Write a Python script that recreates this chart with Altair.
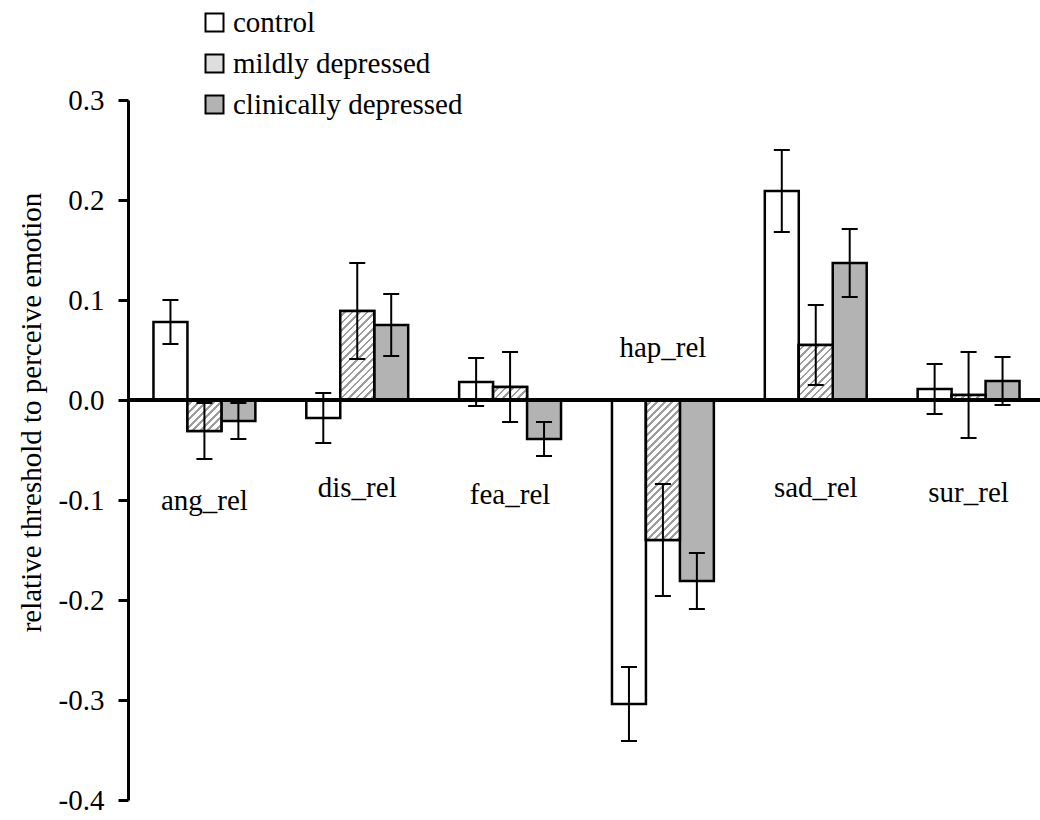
import altair as alt
import pandas as pd

# ---------------- data ----------------
categories = ["ang_rel", "dis_rel", "fea_rel", "hap_rel", "sad_rel", "sur_rel"]
groups = ["control", "mildly depressed", "clinically depressed"]

control = [0.078, -0.018, 0.018, -0.304, 0.209, 0.011]
control_err = [0.022, 0.025, 0.024, 0.037, 0.041, 0.025]
mild = [-0.031, 0.089, 0.013, -0.140, 0.055, 0.005]
mild_err = [0.028, 0.048, 0.035, 0.056, 0.040, 0.043]
clinical = [-0.021, 0.075, -0.039, -0.181, 0.137, 0.019]
clinical_err = [0.018, 0.031, 0.017, 0.028, 0.034, 0.024]

# vertical anchor (baseline) of each category label, in data units
label_anchor = [-0.110, -0.097, -0.104, 0.043, -0.097, -0.102]

y_ticks = [-0.4, -0.3, -0.2, -0.1, 0.0, 0.1, 0.2, 0.3]
y_title = "relative threshold to perceive emotion"

# ---------------- tables ----------------
series = {groups[0]: (control, control_err),
          groups[1]: (mild, mild_err),
          groups[2]: (clinical, clinical_err)}
rows = []
for g in groups:
    vals, errs = series[g]
    for c, v, e in zip(categories, vals, errs):
        rows.append({"category": c, "group": g, "value": v,
                     "lo": round(v - e, 4), "hi": round(v + e, 4)})
df = pd.DataFrame(rows)
labels_df = pd.DataFrame({"category": categories, "label_y": label_anchor})

# ---------------- layout / style ----------------
W, H = 912, 700
X_RANGE = 917
OFFSET_PAD = 0.75
STEP = X_RANGE / len(categories)
BAR_W = STEP / (len(groups) + 2 * OFFSET_PAD)
PX_PER_UNIT = H / 0.7
SERIF = "Liberation Serif"
FS = 29
HATCH = "#9c9c9c"
PERIOD = 7.5
LINE = 2.6

xenc = alt.X("category:N", axis=None,
             scale=alt.Scale(domain=categories, range=[0, X_RANGE],
                             paddingInner=0, paddingOuter=0))
xoff = alt.XOffset("group:N",
                   scale=alt.Scale(domain=groups, paddingInner=0,
                                   paddingOuter=OFFSET_PAD))
yscale = alt.Scale(domain=[-0.4, 0.3], nice=False, zero=False)

yaxis = alt.Axis(
    values=y_ticks,
    labelExpr="replace(format(datum.value, '.1f'), '\u2212', '-')",
    labelFont=SERIF, labelFontSize=FS, labelColor="black", labelPadding=14,
    labelBaseline="middle",
    tickSize=10, tickWidth=3, tickColor="black",
    domainColor="black", domainWidth=3, grid=False,
    title=y_title, titleFont=SERIF, titleFontSize=FS, titleFontWeight="normal",
    titleColor="black", titleAngle=270, titleX=-97, titleY=312,
    titleAlign="center", titleBaseline="middle",
)


def yenc(field):
    return alt.Y(field, scale=yscale, axis=yaxis, stack=None)


def hatch_gradient(value):
    h = max(abs(value) * PX_PER_UNIT, 1.0)
    w = BAR_W
    span = w + h
    stops = [{"offset": 0, "color": "white"}]
    pos = PERIOD * 0.6
    while pos < span:
        a = pos / span
        b = min((pos + LINE) / span, 1.0)
        stops += [{"offset": a, "color": "white"}, {"offset": a, "color": HATCH},
                  {"offset": b, "color": HATCH}, {"offset": b, "color": "white"}]
        pos += PERIOD
    stops.append({"offset": 1, "color": "white"})
    denom = w * w + h * h
    return {"gradient": "linear", "x1": 0, "y1": 0,
            "x2": span * w / denom, "y2": span * h / denom, "stops": stops}


bars = alt.Chart(df).mark_bar(stroke="black", strokeWidth=2.5, opacity=1).encode(
    x=xenc, xOffset=xoff,
    y=yenc("value:Q"),
    fill=alt.Fill("group:N",
                  scale=alt.Scale(domain=groups,
                                  range=["white", "#dedede", "#b3b3b3"]),
                  legend=alt.Legend(
                      title=None, orient="none", legendX=72, legendY=-92,
                      direction="vertical", padding=0,
                      symbolType="square", symbolSize=324,
                      symbolStrokeColor="black", symbolStrokeWidth=2,
                      symbolOpacity=1,
                      labelFont=SERIF, labelFontSize=FS, labelColor="black",
                      labelOffset=4, rowPadding=11, labelLimit=500)),
)

hatch_layers = []
for c, v in zip(categories, mild):
    hatch_layers.append(
        alt.Chart(df)
        .transform_filter((alt.datum.category == c) & (alt.datum.group == groups[1]))
        .mark_bar(fill=hatch_gradient(v), stroke="black", strokeWidth=2.5, opacity=1)
        .encode(x=xenc, xOffset=xoff, y=yenc("value:Q"))
    )

err = alt.Chart(df).mark_rule(color="black", strokeWidth=2, opacity=1).encode(
    x=xenc, xOffset=xoff, y=yenc("lo:Q"), y2="hi:Q")
cap_lo = alt.Chart(df).mark_tick(color="black", size=16, thickness=2, opacity=1).encode(
    x=xenc, xOffset=xoff, y=yenc("lo:Q"))
cap_hi = alt.Chart(df).mark_tick(color="black", size=16, thickness=2, opacity=1).encode(
    x=xenc, xOffset=xoff, y=yenc("hi:Q"))

zero = alt.Chart(df).mark_rule(color="black", strokeWidth=3.5).encode(
    y=alt.datum(0, scale=yscale, axis=yaxis))

labels = alt.Chart(labels_df).mark_text(
    font=SERIF, fontSize=FS, color="black", align="center", baseline="alphabetic"
).encode(x=xenc, y=yenc("label_y:Q"), text="category:N")

chart = (
    alt.layer(bars, *hatch_layers, err, cap_lo, cap_hi, zero, labels)
    .properties(
        width=W, height=H, background="white",
        padding={"left": 128, "top": 100, "right": 0, "bottom": 20},
        autosize=alt.AutoSizeParams(type="none"),
    )
    .configure(font=SERIF)
    .configure_view(stroke=None)
    .configure_axis(labelFont=SERIF, titleFont=SERIF)
    .configure_legend(labelFont=SERIF)
)

chart.save("out.html", embed_options={"renderer": "svg", "actions": False})
